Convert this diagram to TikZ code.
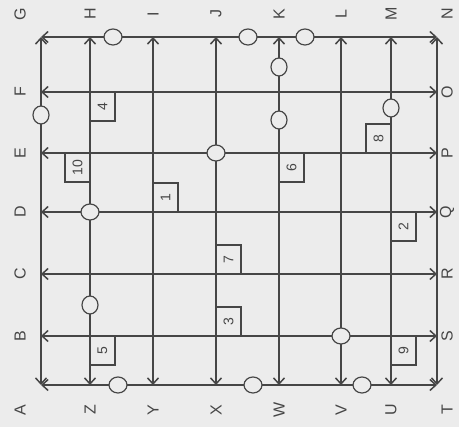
\documentclass[tikz,border=0pt]{standalone}
\usepackage{fontspec}
\setmainfont{Liberation Sans}
\usetikzlibrary{arrows.meta,shapes.geometric}
\definecolor{bg}{RGB}{236,236,236}
\definecolor{ink}{RGB}{70,70,70}
\begin{document}
\begin{tikzpicture}[x=1pt,y=-1pt,
  road/.style={draw=ink,line width=1.5pt,{Straight Barb[length=6pt,width=11pt]}-{Straight Barb[length=6pt,width=11pt]}},
  ring/.style={draw=ink,line width=1.2pt,fill=bg,ellipse,minimum width=18pt,minimum height=16pt,inner sep=0pt},
  vring/.style={ring,minimum width=16pt,minimum height=18pt},
  numbox/.style={draw=ink,line width=1.1pt,minimum width=25pt,minimum height=29pt,inner sep=0pt,font=\fontsize{14}{14}\selectfont,text=ink},
  lbl/.style={font=\fontsize{16}{16}\selectfont,text=ink,rotate=90,inner sep=0pt}]
\fill[bg] (0,0) rectangle (459,427);
\useasboundingbox (0,0) rectangle (459,427);
% grid coordinates
\foreach \n/\x in {A/41,H/90,I/153,J/216,K/279,L/341,M/391,N/437}{
  \coordinate (top\n) at (\x,37);
  \coordinate (bot\n) at (\x,385);
}
\foreach \n/\y in {G/37,F/92,E/153,D/212,C/274,B/336,T/385}{
  \coordinate (lft\n) at (41,\y);
  \coordinate (rgt\n) at (437,\y);
}
% border
\draw[road] (topA) -- (topN);
\draw[road] (topA) -- (botA);
\draw[road] (botA) -- (botN);
\draw[road] (topN) -- (botN);
% inner verticals
\foreach \n in {H,I,J,K,L,M}{ \draw[road] (top\n) -- (bot\n); }
% inner horizontals
\foreach \n in {F,E,D,C,B}{ \draw[road] (lft\n) -- (rgt\n); }
% circles
\node[ring] (c1) at (113,37) {};
\node[ring] (c2) at (248,37) {};
\node[ring] (c3) at (305,37) {};
\node[vring] (c4) at (279,67) {};
\node[vring] (c5) at (279,120) {};
\node[vring] (c6) at (391,108) {};
\node[vring] (c7) at (41,115) {};
\node[ring] (c8) at (216,153) {};
\node[ring] (c9) at (90,212) {};
\node[vring] (c10) at (90,305) {};
\node[ring] (c11) at (118,385) {};
\node[ring] (c12) at (253,385) {};
\node[ring] (c13) at (362,385) {};
\node[ring] (c14) at (341,336) {};
% number boxes
\node[numbox] (n4) at (102.5,106.5) {\rotatebox{90}{4}};
\node[numbox] (n10) at (77.5,167.5) {\rotatebox{90}{10}};
\node[numbox] (n1) at (165.5,197.5) {\rotatebox{90}{1}};
\node[numbox] (n6) at (291.5,167.5) {\rotatebox{90}{6}};
\node[numbox] (n8) at (378.5,138.5) {\rotatebox{90}{8}};
\node[numbox] (n2) at (403.5,226.5) {\rotatebox{90}{2}};
\node[numbox] (n7) at (228.5,259.5) {\rotatebox{90}{7}};
\node[numbox] (n3) at (228.5,321.5) {\rotatebox{90}{3}};
\node[numbox] (n5) at (102.5,350.5) {\rotatebox{90}{5}};
\node[numbox] (n9) at (403.5,350.5) {\rotatebox{90}{9}};
% labels top
\node[lbl] (lG) at (20,14) {G};
\node[lbl] (lH) at (90,14) {H};
\node[lbl] (lI) at (153,14) {I};
\node[lbl] (lJ) at (216,14) {J};
\node[lbl] (lK) at (279,14) {K};
\node[lbl] (lL) at (341,14) {L};
\node[lbl] (lM) at (391,14) {M};
\node[lbl] (lN) at (447,14) {N};
% labels left
\node[lbl] (lF) at (20,92) {F};
\node[lbl] (lE) at (20,153) {E};
\node[lbl] (lD) at (20,212) {D};
\node[lbl] (lC) at (20,274) {C};
\node[lbl] (lB) at (20,336) {B};
\node[lbl] (lA) at (20,410) {A};
% labels bottom
\node[lbl] (lZ) at (90,410) {Z};
\node[lbl] (lY) at (153,410) {Y};
\node[lbl] (lX) at (216,410) {X};
\node[lbl] (lW) at (279,410) {W};
\node[lbl] (lV) at (341,410) {V};
\node[lbl] (lU) at (391,410) {U};
\node[lbl] (lT) at (447,410) {T};
% labels right
\node[lbl] (lO) at (447,92) {O};
\node[lbl] (lP) at (447,153) {P};
\node[lbl] (lQ) at (447,212) {Q};
\node[lbl] (lR) at (447,274) {R};
\node[lbl] (lS) at (447,336) {S};
\end{tikzpicture}
\end{document}
